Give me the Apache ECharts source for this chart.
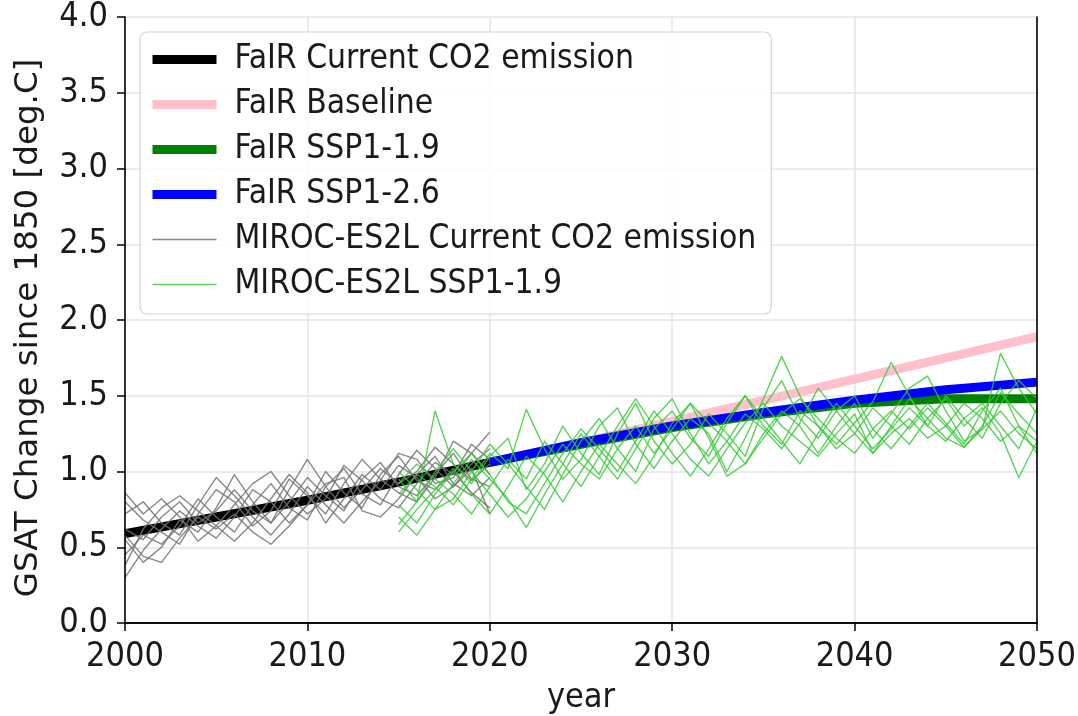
<!DOCTYPE html>
<html>
<head>
<meta charset="utf-8">
<script src="https://cdn.jsdelivr.net/npm/echarts@6/dist/echarts.min.js"></script>
<style>
  html, body { margin: 0; padding: 0; background: #ffffff; }
  #chart { width: 1078px; height: 716px; }
</style>
</head>
<body>
<div id="chart"></div>
<script>
// ---- axis ticks ----
const xTickValues = [2000, 2010, 2020, 2030, 2040, 2050];
const yTickStep = 0.5;

// ---- FaIR emulator runs (GSAT change since 1850, deg.C) ----
const fairHistYears = [2000, 2005, 2010, 2015, 2020];
const fairCurrent = [0.59, 0.70, 0.81, 0.93, 1.06];

const fairScenarioYears = [2020, 2025, 2030, 2035, 2040, 2045, 2050];
const fairBaseline = [1.06, 1.19, 1.33, 1.47, 1.61, 1.75, 1.89];
const fairSsp119   = [1.06, 1.18, 1.29, 1.38, 1.45, 1.48, 1.48];
const fairSsp126   = [1.06, 1.19, 1.30, 1.39, 1.47, 1.54, 1.59];

// ---- MIROC-ES2L ensemble members, annual means ----
const mirocCurrentStart = 2000;   // 2000 .. 2020
const mirocCurrentMembers = [
  [0.62,0.55,0.70,0.80,0.66,0.74,0.88,0.74,0.66,0.80,0.96,0.84,0.74,0.95,1.06,0.90,0.84,0.98,1.12,0.95,0.90],
  [0.45,0.58,0.52,0.64,0.82,0.70,0.60,0.78,0.92,0.76,0.68,0.90,1.02,0.85,0.78,0.98,1.14,1.02,0.90,1.05,1.15],
  [0.80,0.68,0.60,0.52,0.72,0.88,0.80,0.64,0.74,0.95,0.84,0.72,0.92,1.08,0.95,0.86,0.80,0.96,1.20,1.12,0.98],
  [0.30,0.48,0.62,0.74,0.64,0.56,0.70,0.88,0.80,0.66,0.78,1.00,0.86,0.76,0.98,1.10,0.94,0.88,1.00,0.86,0.76],
  [0.72,0.80,0.66,0.58,0.78,0.96,0.84,0.70,0.58,0.72,0.90,0.78,0.66,0.80,0.94,1.12,1.08,0.92,0.96,1.12,1.26],
  [0.55,0.40,0.50,0.68,0.60,0.76,0.98,0.80,0.66,0.88,1.08,0.90,0.76,0.88,1.02,0.92,1.00,1.16,1.05,0.94,1.05],
  [0.86,0.72,0.82,0.70,0.54,0.64,0.78,0.92,1.00,0.84,0.72,0.82,1.04,0.94,0.82,0.76,0.92,1.06,0.98,1.18,1.08],
  [0.38,0.62,0.76,0.84,0.74,0.64,0.54,0.66,0.82,0.98,0.86,0.66,0.82,0.98,0.88,1.04,0.96,0.82,0.90,1.02,0.72],
  [0.58,0.44,0.40,0.56,0.70,0.62,0.72,0.60,0.52,0.64,0.78,0.92,0.96,0.74,0.70,0.82,0.98,1.10,0.92,0.84,0.96]
];

const mirocSspStart = 2015;       // 2015 .. 2050
const mirocSsp119Members = [
  [0.95,0.80,1.40,1.05,0.92,1.10,1.22,0.88,1.05,1.30,1.12,0.98,1.25,1.45,1.20,1.05,1.18,1.38,1.25,1.10,1.42,1.60,1.35,1.22,1.40,1.50,1.28,1.15,1.30,1.45,1.32,1.18,1.40,1.55,1.30,1.20],
  [0.70,0.58,0.75,0.92,1.08,0.95,0.82,0.63,0.85,1.05,1.25,1.10,0.95,1.15,1.35,1.48,1.25,1.05,1.20,1.38,1.28,1.15,1.32,1.55,1.40,1.25,1.12,1.30,1.48,1.35,1.22,1.16,1.30,1.52,1.38,1.25],
  [0.85,0.98,0.90,0.78,0.95,1.12,1.02,1.41,1.15,0.95,1.08,1.30,1.42,1.18,1.02,1.20,1.35,1.25,1.00,1.22,1.48,1.76,1.50,1.30,1.18,1.32,1.46,1.72,1.50,1.30,1.20,1.35,1.45,1.30,1.15,1.42],
  [0.60,0.75,0.88,1.02,0.85,0.72,0.90,1.10,0.98,0.80,1.00,1.18,1.05,0.92,1.10,1.32,1.45,1.22,0.97,1.05,1.25,1.40,1.30,1.12,1.30,1.45,1.22,1.38,1.55,1.63,1.40,1.20,1.28,1.40,1.25,1.15],
  [1.00,0.88,0.75,0.82,1.00,1.18,1.05,0.90,0.75,0.98,1.20,1.35,1.15,1.00,1.28,1.40,1.22,1.10,1.32,1.50,1.35,1.20,1.05,1.25,1.45,1.30,1.15,1.28,1.42,1.30,1.50,1.35,1.22,1.45,1.60,1.48],
  [0.78,0.66,0.85,1.00,1.12,0.98,0.80,0.72,0.92,1.12,1.28,1.15,1.00,1.20,1.40,1.25,1.08,0.97,1.15,1.32,1.45,1.30,1.20,1.10,1.25,1.38,1.12,1.25,1.35,1.22,1.30,1.16,1.28,1.78,1.55,1.38],
  [0.92,1.05,0.95,0.85,0.72,0.90,1.08,0.95,1.20,1.05,0.90,1.10,1.30,1.48,1.30,1.12,0.97,1.15,1.35,1.50,1.30,1.18,1.40,1.30,1.15,1.25,1.42,1.30,1.18,1.35,1.48,1.30,1.42,1.25,0.96,1.20],
  [0.65,0.80,1.00,1.15,1.00,0.85,0.70,0.82,1.00,1.18,1.05,0.95,1.15,1.30,1.12,1.28,1.45,1.32,1.20,1.05,1.22,1.38,1.48,1.35,1.22,1.12,1.28,1.40,1.28,1.42,1.30,1.45,1.35,1.20,1.30,1.12]
];

// ---- series names ----
const NAME_FAIR_CUR = 'FaIR Current CO2 emission';
const NAME_FAIR_BASE = 'FaIR Baseline';
const NAME_FAIR_119 = 'FaIR SSP1-1.9';
const NAME_FAIR_126 = 'FaIR SSP1-2.6';
const NAME_MIROC_CUR = 'MIROC-ES2L Current CO2 emission';
const NAME_MIROC_119 = 'MIROC-ES2L SSP1-1.9';

// ---- styling ----
const FONT = "'DejaVu Sans Condensed', 'DejaVu Sans', sans-serif";
const TEXT_COLOR = '#1a1a1a';
const COLORS = {
  fairCur: '#000000',
  fairBase: '#ffc0cb',
  fair119: '#008000',
  fair126: '#0000ff',
  mirocCur: 'rgba(115,115,115,0.85)',
  miroc119: 'rgba(50,200,50,0.8)'
};
const THICK = 9;
const THIN = 1.4;

function pairs(xs, ys) { return xs.map((x, i) => [x, ys[i]]); }
function annual(start, ys) { return ys.map((y, i) => [start + i, y]); }

function thickLine(name, data, color) {
  return {
    name, type: 'line', data, showSymbol: false, symbol: 'none', smooth: false,
    lineStyle: { color, width: THICK, cap: 'butt', join: 'round' },
    itemStyle: { color },
    emphasis: { disabled: true }, silent: true, z: 2
  };
}
function thinLine(name, data, color) {
  return {
    name, type: 'line', data, showSymbol: false, symbol: 'none', smooth: false,
    lineStyle: { color, width: THIN, join: 'round' },
    itemStyle: { color },
    emphasis: { disabled: true }, silent: true, z: 3
  };
}

const series = [
  thickLine(NAME_FAIR_CUR, pairs(fairHistYears, fairCurrent), COLORS.fairCur),
  thickLine(NAME_FAIR_BASE, pairs(fairScenarioYears, fairBaseline), COLORS.fairBase),
  thickLine(NAME_FAIR_119, pairs(fairScenarioYears, fairSsp119), COLORS.fair119),
  thickLine(NAME_FAIR_126, pairs(fairScenarioYears, fairSsp126), COLORS.fair126)
];
mirocCurrentMembers.forEach(m => series.push(thinLine(NAME_MIROC_CUR, annual(mirocCurrentStart, m), COLORS.mirocCur)));
mirocSsp119Members.forEach(m => series.push(thinLine(NAME_MIROC_119, annual(mirocSspStart, m), COLORS.miroc119)));

const xMin = xTickValues[0], xMax = xTickValues[xTickValues.length - 1];
const xStep = xTickValues[1] - xTickValues[0];
const yMin = 0, yMax = 4;

const labelStyle = { fontFamily: FONT, fontSize: 34, color: TEXT_COLOR };
const blackLine = { show: true, lineStyle: { color: '#000', width: 1.6 } };

const option = {
  animation: false,
  backgroundColor: '#ffffff',
  grid: { left: 125, top: 17, width: 912, height: 606, outerBoundsMode: 'none', containLabel: false },
  legend: {
    orient: 'vertical', left: 140, top: 32,
    padding: [10, 15, 12, 8],
    itemWidth: 64, itemHeight: 12, itemGap: 10,
    backgroundColor: 'rgba(255,255,255,0.85)',
    borderColor: '#d4d4d4', borderWidth: 1.2, borderRadius: 7,
    selectedMode: false,
    itemStyle: { opacity: 0 },
    textStyle: { fontFamily: FONT, fontSize: 33.3, color: TEXT_COLOR, lineHeight: 35, padding: [0, 0, 0, 13] },
    data: [
      { name: NAME_FAIR_CUR, lineStyle: { width: THICK, color: COLORS.fairCur } },
      { name: NAME_FAIR_BASE, lineStyle: { width: THICK, color: COLORS.fairBase } },
      { name: NAME_FAIR_119, lineStyle: { width: THICK, color: COLORS.fair119 } },
      { name: NAME_FAIR_126, lineStyle: { width: THICK, color: COLORS.fair126 } },
      { name: NAME_MIROC_CUR, lineStyle: { width: THIN + 0.2, color: COLORS.mirocCur } },
      { name: NAME_MIROC_119, lineStyle: { width: THIN + 0.2, color: COLORS.miroc119 } }
    ]
  },
  xAxis: [
    { // main bottom axis: labels, ticks, spine
      type: 'value', position: 'bottom', min: xMin, max: xMax, interval: xStep, z: 10,
      name: 'year', nameLocation: 'middle', nameGap: 58,
      nameTextStyle: labelStyle,
      axisLine: blackLine,
      axisTick: { show: true, inside: false, length: 8, lineStyle: { color: '#000', width: 1.5 } },
      axisLabel: Object.assign({ margin: 17, formatter: v => String(v) }, labelStyle),
      splitLine: { show: false }
    },
    { // grid lines underneath the data
      type: 'value', position: 'bottom', min: xMin, max: xMax, interval: xStep, z: 0,
      axisLine: { show: false }, axisTick: { show: false }, axisLabel: { show: false },
      splitLine: { show: true, lineStyle: { color: '#e4e4e4', width: 1.5 } }
    },
    { // top spine
      type: 'value', position: 'top', min: xMin, max: xMax, z: 10,
      axisLine: blackLine, axisTick: { show: false }, axisLabel: { show: false }, splitLine: { show: false }
    }
  ],
  yAxis: [
    {
      type: 'value', position: 'left', min: yMin, max: yMax, interval: yTickStep, z: 10,
      name: 'GSAT Change since 1850 [deg.C]', nameLocation: 'middle', nameGap: 80, nameRotate: 90,
      nameTextStyle: { fontFamily: "'DejaVu Sans', sans-serif", fontSize: 32.5, color: TEXT_COLOR, padding: [0, 16, 0, 0] },
      axisLine: blackLine,
      axisTick: { show: true, inside: false, length: 8, lineStyle: { color: '#000', width: 1.5 } },
      axisLabel: Object.assign({ margin: 17, formatter: v => v.toFixed(1) }, labelStyle),
      splitLine: { show: false }
    },
    {
      type: 'value', position: 'left', min: yMin, max: yMax, interval: yTickStep, z: 0,
      axisLine: { show: false }, axisTick: { show: false }, axisLabel: { show: false },
      splitLine: { show: true, lineStyle: { color: '#e4e4e4', width: 1.5 } }
    },
    {
      type: 'value', position: 'right', min: yMin, max: yMax, z: 10,
      axisLine: blackLine, axisTick: { show: false }, axisLabel: { show: false }, splitLine: { show: false }
    }
  ],
  series
};

const chart = echarts.init(document.getElementById('chart'), null, { renderer: 'canvas' });
chart.setOption(option);
</script>
</body>
</html>
